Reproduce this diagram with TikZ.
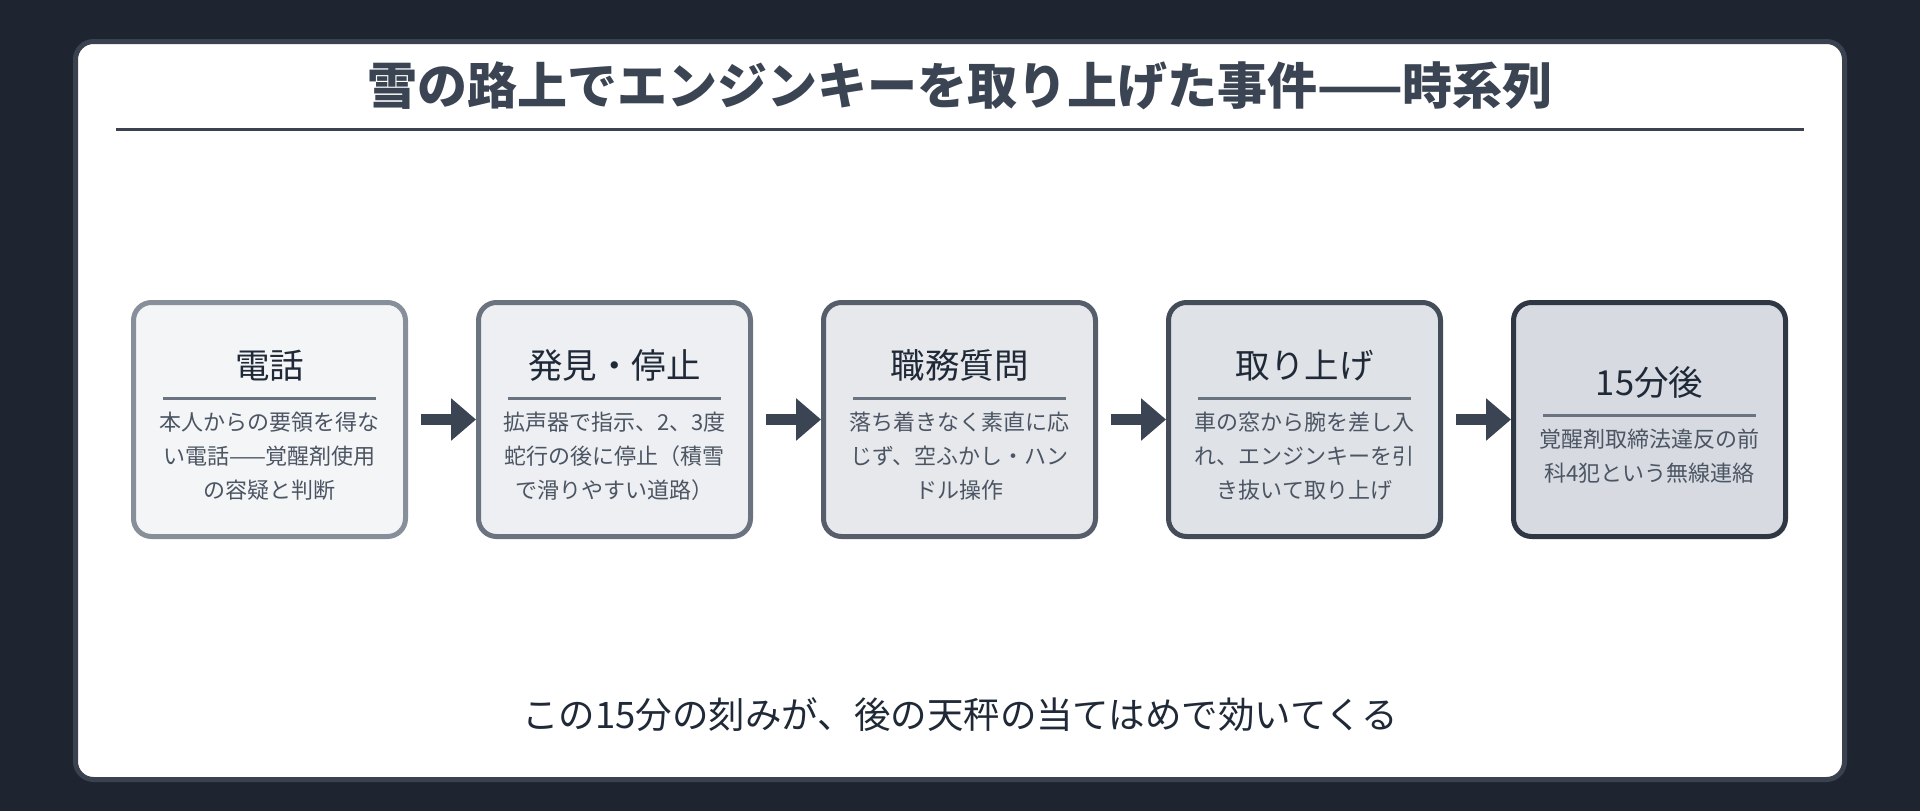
\documentclass[tikz,border=0pt]{standalone}
\usepackage{fontspec}
\setmainfont{Noto Sans CJK JP}
\usepackage{xcolor}
\usetikzlibrary{positioning,arrows.meta}

\definecolor{bgdark}{HTML}{1E2430}
\definecolor{panelline}{HTML}{3A4250}
\definecolor{titleink}{HTML}{3B4452}
\definecolor{rulegray}{HTML}{6B7280}
\definecolor{headink}{HTML}{1F2937}
\definecolor{bodyink}{HTML}{4B5563}
\definecolor{arrowink}{HTML}{3B4452}
\definecolor{fillA}{HTML}{F4F5F7}
\definecolor{fillB}{HTML}{EDEFF2}
\definecolor{fillC}{HTML}{E6E8EC}
\definecolor{fillD}{HTML}{DFE2E6}
\definecolor{fillE}{HTML}{D7DBE1}
\definecolor{lineA}{HTML}{878F9B}
\definecolor{lineB}{HTML}{6B7380}
\definecolor{lineC}{HTML}{575E6B}
\definecolor{lineD}{HTML}{454C59}
\definecolor{lineE}{HTML}{303744}

\begin{document}
\begin{tikzpicture}[x=1pt,y=-1pt,
    block/.style={draw, rounded corners=18pt, line width=5pt,
        minimum width=272pt, minimum height=234pt},
    blocktitle/.style={font=\fontsize{34.5}{41}\selectfont, text=headink,
        inner sep=0pt, text height=26pt, text depth=0pt},
    blockrule/.style={fill=rulegray, inner sep=0pt,
        minimum width=213pt, minimum height=3pt},
    blocktext/.style={font=\fontsize{22}{34}\selectfont, text=bodyink,
        inner sep=0pt, align=center},
    flow/.style={-{Triangle[length=25pt,width=41pt]}, line width=11pt,
        draw=arrowink, shorten <=13pt}
]

\fill[bgdark] (0,0) rectangle (1920,811);
\useasboundingbox (0,0) rectangle (1920,811);

\node[draw=panelline,
    fill=white,
    line width=5pt,
    rounded corners=18pt,
    minimum width=1769pt,
    minimum height=738pt
] (panel) at (960,410.5) {};

\node[font=\fontsize{50}{60}\selectfont\bfseries,
    text=titleink
] (title) at (960,86) {雪の路上でエンジンキーを取り上げた事件——時系列};

\node[fill=panelline,
    inner sep=0pt,
    minimum width=1688pt,
    minimum height=3pt
] (titlerule) at (960,129) {};

% time line boxes
\node[block, fill=fillA, draw=lineA] (block1) at (269.5,419.5) {};
\node[block, fill=fillB, draw=lineB, right=68pt of block1] (block2) {};
\node[block, fill=fillC, draw=lineC, right=68pt of block2] (block3) {};
\node[block, fill=fillD, draw=lineD, right=68pt of block3] (block4) {};
\node[block, fill=fillE, draw=lineE, right=68pt of block4] (block5) {};

\node[blockrule, yshift=21.5pt] (rule1) at (block1.center) {};
\node[blocktitle, above=18pt of rule1] (head1) {電話};
\node[blocktext, below=12pt of rule1] (text1) {本人からの要領を得な\\い電話——覚醒剤使用\\の容疑と判断};

\node[blockrule, yshift=21.5pt] (rule2) at (block2.center) {};
\node[blocktitle, above=18pt of rule2] (head2) {発見・停止};
\node[blocktext, below=12pt of rule2] (text2) {拡声器で指示、2、3度\\蛇行の後に停止（積雪\\で滑りやすい道路）};

\node[blockrule, yshift=21.5pt] (rule3) at (block3.center) {};
\node[blocktitle, above=18pt of rule3] (head3) {職務質問};
\node[blocktext, below=12pt of rule3] (text3) {落ち着きなく素直に応\\じず、空ふかし・ハン\\ドル操作};

\node[blockrule, yshift=21.5pt] (rule4) at (block4.center) {};
\node[blocktitle, above=18pt of rule4] (head4) {取り上げ};
\node[blocktext, below=12pt of rule4] (text4) {車の窓から腕を差し入\\れ、エンジンキーを引\\き抜いて取り上げ};

\node[blockrule, yshift=4.5pt] (rule5) at (block5.center) {};
\node[blocktitle, above=18pt of rule5] (head5) {15分後};
\node[blocktext, below=12pt of rule5] (text5) {覚醒剤取締法違反の前\\科4犯という無線連絡};

\draw[flow] (block1) -- (block2);
\draw[flow] (block2) -- (block3);
\draw[flow] (block3) -- (block4);
\draw[flow] (block4) -- (block5);

\node[font=\fontsize{36.5}{44}\selectfont,
    text=headink
] (note) at (960,715) {この15分の刻みが、後の天秤の当てはめで効いてくる};

\end{tikzpicture}
\end{document}
